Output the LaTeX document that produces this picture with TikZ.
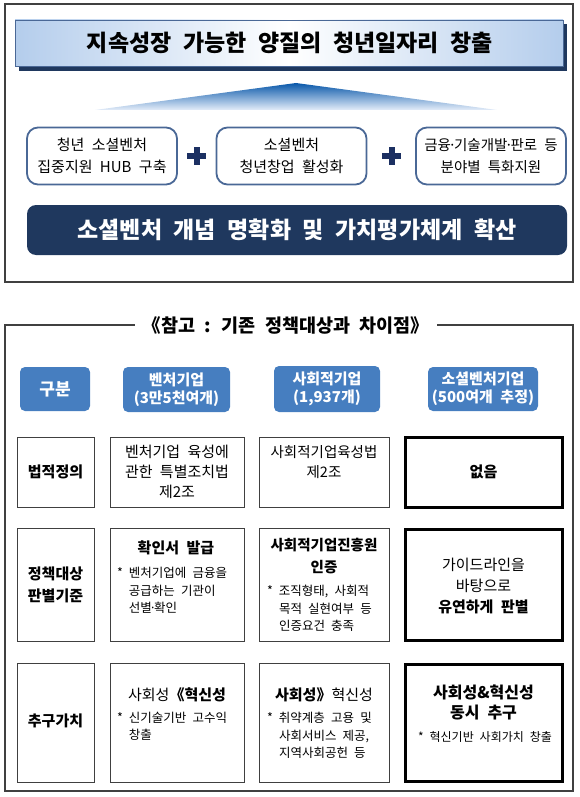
\documentclass[tikz,border=0pt]{standalone}
\usepackage{fontspec}
\setmainfont[WordSpace=2.2]{Noto Sans CJK KR}
\definecolor{navy}{RGB}{31,56,94}
\definecolor{bannerblue}{RGB}{180,205,236}
\definecolor{tritop}{RGB}{10,88,170}
\definecolor{tribot}{RGB}{228,237,249}
\definecolor{boxline}{RGB}{74,104,150}
\definecolor{plusc}{RGB}{28,48,98}
\definecolor{hdr}{RGB}{70,126,192}
\definecolor{framec}{RGB}{64,64,64}
\newcommand\mdot{\kern-2.5pt·\kern-2.5pt}
\begin{document}
\begin{tikzpicture}[x=1pt,y=-1pt,
  every node/.style={inner sep=0pt, outer sep=0pt},
  framel/.style={draw=framec, line width=1.2pt},
  rbox/.style={draw=boxline, line width=1.8pt, rounded corners=11pt, fill=white, minimum width=150pt, minimum height=57pt},
  rtxt/.style={font=\fontsize{15}{22}\selectfont, align=center},
  hdrbox/.style={fill=hdr, rounded corners=5pt, text=white, align=center, font=\fontsize{15}{18}\selectfont\bfseries},
  cell/.style={draw=framec, line width=1pt},
  thickcell/.style={draw=black, line width=3pt},
  ctxt/.style={font=\fontsize{15}{20}\selectfont, align=center},
  btxt/.style={font=\fontsize{15}{22}\selectfont\bfseries, align=center},
  bul/.style={font=\fontsize{12.5}{17.5}\selectfont, align=left, anchor=west}]
\useasboundingbox (0,0) rectangle (580,797);

% ---------- upper panel ----------
\draw[framel] (5,4) rectangle (573,282);
\fill[navy] (19,24) rectangle (567,71);
\shadedraw[left color=bannerblue, right color=bannerblue, middle color=white, draw=boxline, line width=0.6pt] (15,20) rectangle (563,66);
\node[font=\fontsize{23}{26}\selectfont\bfseries] (banner) at (290,43) {지속성장 가능한 양질의 청년일자리 창출};

\shade[top color=tritop, bottom color=tribot] (296,83) -- (95,110) -- (497,110) -- cycle;

\node[rbox] (b1) at (102,156) {};
\node[rbox] (b2) at (291.5,156) {};
\node[rbox] (b3) at (491,156) {};
\node[rtxt] (b1t) at (b1) {청년 소셜벤처\\집중지원 HUB 구축};
\node[rtxt] (b2t) at (b2) {소셜벤처\\청년창업 활성화};
\node[rtxt, font=\fontsize{14.5}{22}\selectfont] (b3t) at (b3) {금융\mdot 기술개발\mdot 판로 등\\분야별 특화지원};

\coordinate (plus1) at (196.5,156);
\coordinate (plus2) at (391.5,156);
\foreach \p in {plus1,plus2}{
  \fill[plusc] ([xshift=-9.5pt,yshift=-3pt]\p) rectangle ([xshift=9.5pt,yshift=3pt]\p);
  \fill[plusc] ([xshift=-3pt,yshift=-9pt]\p) rectangle ([xshift=3pt,yshift=9pt]\p);
}

\node[fill=navy, rounded corners=9pt, minimum width=540pt, minimum height=50pt] (bar) at (297,230) {};
\node[font=\fontsize{23}{26}\selectfont\bfseries, text=white] (bart) at (bar) {소셜벤처 개념 명확화 및 가치평가체계 확산};

% ---------- lower panel ----------
\node[font=\fontsize{18.5}{20}\selectfont\bfseries] (ref) at (286,325) {《참고 : 기존 정책대상과 차이점》};
\draw[framel] ([xshift=-8pt]ref.west |- 0,325) -- (5,325) -- (5,791) -- (573,791) -- (573,325) -- ([xshift=8pt]ref.east |- 0,325);

% headers
\node[hdrbox, minimum width=70pt, minimum height=44pt, font=\fontsize{17}{20}\selectfont\bfseries] (h1) at (55,389) {구분};
\node[hdrbox, minimum width=107pt, minimum height=45pt] (h2) at (176.5,389.5) {벤처기업\\(3만5천여개)};
\node[hdrbox, minimum width=106pt, minimum height=46pt] (h3) at (327,389) {사회적기업\\(1,937개)};
\node[hdrbox, minimum width=110pt, minimum height=44pt] (h4) at (483,389) {소셜벤처기업\\(500여개 추정)};

% row 1
\node[cell, minimum width=77pt, minimum height=70pt] (r1c1) at (55.5,472) {};
\node[cell, minimum width=134pt, minimum height=70pt] (r1c2) at (177,472) {};
\node[cell, minimum width=130pt, minimum height=70pt] (r1c3) at (324,472) {};
\node[thickcell, minimum width=157pt, minimum height=70pt] (r1c4) at (483.5,472) {};
\node[btxt] (r1c1t) at (r1c1) {법적정의};
\node[ctxt] (r1c2t) at (r1c2) {벤처기업 육성에\\관한 특별조치법\\제2조};
\node[ctxt, font=\fontsize{14.5}{20}\selectfont] (r1c3t) at (324,462) {사회적기업육성법\\제2조};
\node[btxt] (r1c4t) at (r1c4) {없음};

% row 2
\node[cell, minimum width=77pt, minimum height=113pt] (r2c1) at (55.5,584.5) {};
\node[cell, minimum width=134pt, minimum height=113pt] (r2c2) at (177,584.5) {};
\node[cell, minimum width=130pt, minimum height=113pt] (r2c3) at (324,584.5) {};
\node[thickcell, minimum width=157pt, minimum height=111pt] (r2c4) at (483.5,584.5) {};
\node[btxt] (r2c1t) at (r2c1) {정책대상\\판별기준};
\node[btxt] (r2c2h) at (176,548) {확인서 발급};
\node[bul] (r2c2b) at (117,590.5) {* 벤처기업에 금융을\\\phantom{* }공급하는 기관이\\\phantom{* }선별\mdot 확인};
\node[btxt, font=\fontsize{14.5}{22}\selectfont\bfseries] (r2c3h) at (324,556) {사회적기업진흥원\\인증};
\node[bul] (r2c3b) at (267,608.5) {* 조직형태, 사회적\\\phantom{* }목적 실현여부 등\\\phantom{* }인증요건 충족};
\node[ctxt, font=\fontsize{15}{21}\selectfont] (r2c4t) at (483.5,586) {가이드라인을\\바탕으로\\\textbf{유연하게 판별}};

% row 3
\node[cell, minimum width=77pt, minimum height=119pt] (r3c1) at (55.5,722.5) {};
\node[cell, minimum width=134pt, minimum height=119pt] (r3c2) at (177,722.5) {};
\node[cell, minimum width=130pt, minimum height=119pt] (r3c3) at (324,722.5) {};
\node[thickcell, minimum width=157pt, minimum height=117pt] (r3c4) at (483.5,722.5) {};
\node[btxt] (r3c1t) at (55.5,721) {추구가치};
\node[ctxt] (r3c2h) at (177,695) {사회성\textbf{《혁신성}};
\node[bul] (r3c2b) at (117,726.5) {* 신기술기반 고수익\\\phantom{* }창출};
\node[ctxt] (r3c3h) at (324,695) {\textbf{사회성》}혁신성};
\node[bul] (r3c3b) at (267,735.5) {* 취약계층 고용 및\\\phantom{* }사회서비스 제공,\\\phantom{* }지역사회공헌 등};
\node[btxt, font=\fontsize{16}{20}\selectfont\bfseries] (r3c4h) at (483.5,702) {사회성\&혁신성\\동시 추구};
\node[font=\fontsize{12}{15}\selectfont] (r3c4b) at (485,737) {* 혁신기반 사회가치 창출};
\end{tikzpicture}
\end{document}
